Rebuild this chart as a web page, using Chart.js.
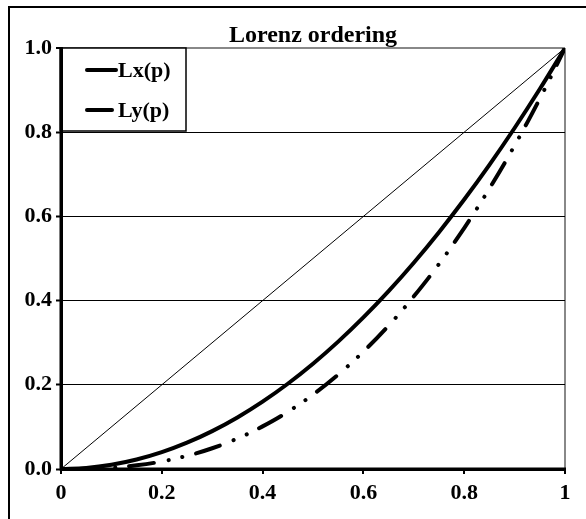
<!DOCTYPE html>
<html>
<head>
<meta charset="utf-8">
<script src="https://cdn.jsdelivr.net/npm/chart.js@4"></script>
<style>
  html, body { margin: 0; padding: 0; background: #fff; }
  canvas { display: block; }
</style>
</head>
<body>
<canvas id="myChart" width="586" height="519"></canvas>
<script>
const chartTitle = "Lorenz ordering";
const pValues = [0, 0.05, 0.1, 0.15, 0.2, 0.25, 0.3, 0.35, 0.4, 0.45, 0.5, 0.55, 0.6, 0.65, 0.7, 0.75, 0.8, 0.85, 0.9, 0.95, 1];
const lxValues = [0, 0.0025, 0.01, 0.0225, 0.04, 0.0625, 0.09, 0.1225, 0.16, 0.2025, 0.25, 0.3025, 0.36, 0.4225, 0.49, 0.5625, 0.64, 0.7225, 0.81, 0.9025, 1];
const lyValues = [0, 0.0006, 0.0032, 0.0087, 0.0179, 0.0313, 0.0493, 0.0725, 0.1012, 0.1358, 0.1768, 0.2243, 0.2789, 0.3406, 0.41, 0.4871, 0.5724, 0.6661, 0.7684, 0.8796, 1];
const diagX = [0, 1];
const diagY = [0, 1];
const seriesNames = ["Lx(p)", "Ly(p)"];
const xTickLabels = ["0", "0.2", "0.4", "0.6", "0.8", "1"];
const yTickLabels = ["0.0", "0.2", "0.4", "0.6", "0.8", "1.0"];

const toPoints = (xs, ys) => xs.map((x, i) => ({ x: x, y: ys[i] }));
const lyDash = [25, 15, 0.1, 14, 0.1, 14];

Chart.defaults.font.family = '"Liberation Serif", "Times New Roman", serif';
Chart.defaults.font.weight = "bold";
Chart.defaults.font.size = 22;
Chart.defaults.color = "#000";

// frame, axis lines, title and legend box
const decorations = {
  id: "decorations",
  beforeDatasetsDraw(chart) {
    const { ctx, chartArea } = chart;
    const x0 = chart.scales.x.getPixelForValue(0);
    const y0 = chart.scales.y.getPixelForValue(0);
    ctx.save();
    ctx.strokeStyle = "#000";
    ctx.lineWidth = 3;
    ctx.beginPath();
    ctx.moveTo(x0, chartArea.top - 1);
    ctx.lineTo(x0, y0);
    ctx.lineTo(chartArea.right + 1, y0);
    ctx.stroke();
    ctx.restore();
  },
  afterDraw(chart) {
    const { ctx, chartArea } = chart;
    ctx.save();
    ctx.strokeStyle = "#000";
    ctx.lineWidth = 2;
    ctx.strokeRect(9, 7, 700, 700);

    ctx.font = 'bold 24px "Liberation Serif", serif';
    ctx.fillStyle = "#000";
    ctx.textAlign = "center";
    ctx.textBaseline = "alphabetic";
    ctx.fillText(chartTitle, (chartArea.left + chartArea.right) / 2, 41.5);

    const bx = chartArea.left, by = chartArea.top, bw = 125, bh = 83;
    ctx.fillStyle = "#fff";
    ctx.fillRect(bx + 2, by, bw - 2, bh);
    ctx.lineWidth = 1.5;
    ctx.strokeStyle = "#000";
    ctx.strokeRect(bx, by, bw, bh);
    ctx.lineWidth = 3;
    ctx.beginPath();
    ctx.moveTo(bx, by - 1);
    ctx.lineTo(bx, by + bh);
    ctx.stroke();

    chart.data.datasets.slice(0, 2).forEach((ds, i) => {
      const y = by + 22 + i * 40;
      ctx.beginPath();
      ctx.lineWidth = ds.borderWidth;
      ctx.lineCap = "round";
      ctx.setLineDash(ds.borderDash || []);
      ctx.moveTo(bx + 26, y);
      ctx.lineTo(bx + 55, y);
      ctx.stroke();
      ctx.setLineDash([]);
      ctx.font = 'bold 22px "Liberation Serif", serif';
      ctx.fillStyle = "#000";
      ctx.textAlign = "left";
      ctx.textBaseline = "middle";
      ctx.fillText(ds.label, bx + 57, y + 1);
    });
    ctx.restore();
  },
};

new Chart(document.getElementById("myChart").getContext("2d"), {
  type: "line",
  data: {
    datasets: [
      {
        label: seriesNames[0],
        data: toPoints(pValues, lxValues),
        borderColor: "#000",
        borderWidth: 4,
        borderCapStyle: "round",
        pointRadius: 0,
        tension: 0.4,
      },
      {
        label: seriesNames[1],
        data: toPoints(pValues, lyValues),
        borderColor: "#000",
        borderWidth: 4,
        borderDash: lyDash,
        borderCapStyle: "round",
        pointRadius: 0,
        tension: 0.4,
      },
      {
        label: "diagonal",
        data: toPoints(diagX, diagY),
        borderColor: "#000",
        borderWidth: 1,
        pointRadius: 0,
      },
    ],
  },
  options: {
    responsive: false,
    animation: false,
    devicePixelRatio: 1,
    layout: { padding: { top: 48, right: 21, left: 0, bottom: 0 } },
    scales: {
      x: {
        type: "linear",
        min: 0,
        max: 1,
        afterFit: (scale) => { scale.height = 50; },
        ticks: {
          stepSize: 0.2,
          padding: 6,
          maxRotation: 0,
          callback: (v, i) => xTickLabels[i],
        },
        grid: {
          color: (c) => (c.index === 5 ? "#888" : "rgba(0,0,0,0)"),
          lineWidth: 2,
          tickColor: "#000",
          tickWidth: 2,
          tickLength: 5,
        },
        border: { display: true, color: "#000", width: 3 },
      },
      y: {
        min: 0,
        max: 1,
        afterFit: (scale) => { scale.width = 61; },
        ticks: {
          stepSize: 0.2,
          padding: 4,
          callback: (v, i) => yTickLabels[i],
        },
        grid: {
          color: (c) => (c.index === 5 ? "#888" : "#000"),
          lineWidth: (c) => (c.index === 5 ? 2 : 1),
          tickColor: "#000",
          tickWidth: 2,
          tickLength: 5,
        },
        border: { display: true, color: "#000", width: 3 },
      },
    },
    plugins: {
      legend: { display: false },
      title: { display: false },
      tooltip: { enabled: false },
    },
  },
  plugins: [decorations],
});
</script>
</body>
</html>
